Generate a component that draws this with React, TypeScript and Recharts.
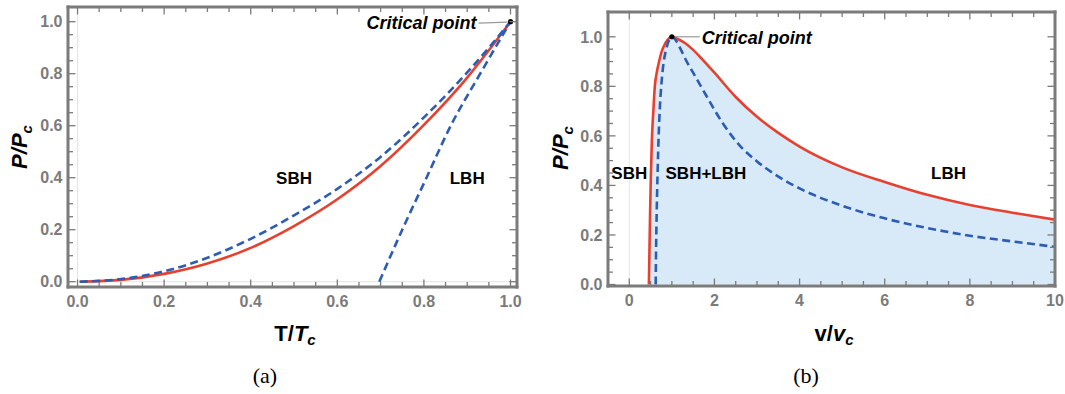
import React from 'react';
import { ComposedChart, Line, Area, XAxis, YAxis, ReferenceLine, ReferenceDot } from 'recharts';

// ---- Panel (a): P/Pc against T/Tc ----
const aT = [0.005, 0.1, 0.2, 0.3, 0.4, 0.5, 0.6, 0.7, 0.8, 0.9, 0.95, 1.0];
const aCoexistenceP = [0, 0.007, 0.03, 0.07, 0.13, 0.214, 0.317, 0.445, 0.603, 0.785, 0.89, 1.0];
const aSbhSpinodalP = [0, 0.01, 0.04, 0.092, 0.165, 0.255, 0.357, 0.48, 0.632, 0.805, 0.9, 1.0];
const aLbhSpinodalT = [0.697, 0.75, 0.806, 0.862, 0.93, 1.0];
const aLbhSpinodalP = [0, 0.2, 0.4, 0.6, 0.8, 1.0];

// ---- Panel (b): P/Pc against v/vc ----
const bCoexistenceV = [0.46, 0.475, 0.49, 0.505, 0.53, 0.565, 0.6, 0.65, 0.7, 0.76, 0.82, 0.9, 1.0, 1.15, 1.33, 1.5, 1.72, 2.0, 2.5, 3.0, 3.5, 4.0, 5.0, 6.0, 7.0, 8.0, 9.0, 10.0];
const bCoexistenceP = [0, 0.15, 0.3, 0.42, 0.58, 0.7, 0.8, 0.86, 0.9, 0.94, 0.965, 0.988, 1.0, 0.99, 0.972, 0.947, 0.908, 0.855, 0.757, 0.677, 0.612, 0.557, 0.473, 0.414, 0.362, 0.321, 0.29, 0.262];
const bSpinodalV = [0.62, 0.63, 0.645, 0.665, 0.69, 0.72, 0.76, 0.81, 0.86, 0.93, 1.0, 1.1, 1.22, 1.35, 1.5, 1.65, 1.8, 2.0, 2.2, 2.6, 3.0, 3.4, 4.0, 5.0, 6.0, 7.0, 8.0, 9.0, 10.0];
const bSpinodalP = [0, 0.15, 0.3, 0.45, 0.6, 0.72, 0.82, 0.9, 0.945, 0.985, 1.0, 0.984, 0.945, 0.9, 0.855, 0.81, 0.765, 0.705, 0.65, 0.56, 0.497, 0.447, 0.388, 0.318, 0.267, 0.228, 0.197, 0.174, 0.152];

// ---- Ticks ----
const unitMajor = [0, 0.2, 0.4, 0.6, 0.8, 1.0];
const unitMinor = [0.05, 0.1, 0.15, 0.25, 0.3, 0.35, 0.45, 0.5, 0.55, 0.65, 0.7, 0.75, 0.85, 0.9, 0.95];
const vMajor = [0, 2, 4, 6, 8, 10];
const vMinor = [-0.5, 0.5, 1, 1.5, 2.5, 3, 3.5, 4.5, 5, 5.5, 6.5, 7, 7.5, 8.5, 9, 9.5];

// ---- Region labels ----
const aRegionLabels = [
  { x: 0.5, y: 0.4, text: 'SBH' },
  { x: 0.9, y: 0.4, text: 'LBH' },
];
const bRegionLabels = [
  { x: 0.0, y: 0.45, text: 'SBH' },
  { x: 1.8, y: 0.45, text: 'SBH+LBH' },
  { x: 7.5, y: 0.45, text: 'LBH' },
];
const criticalPoint = { x: 1, y: 1 };

const GRAY = '#7b7b7b';
const RED = '#e8402f';
const BLUE = '#2c5db2';
const FILL = '#d8eaf8';
const SANS = '"Liberation Sans", Arial, sans-serif';

const toPoints = (xs: number[], ys: number[]) => xs.map((x, i) => ({ x, y: ys[i] }));

type Side = 'bottom' | 'top' | 'left' | 'right';

function FrameTick(props: any) {
  const { x = 0, y = 0, payload, side, majors, fmt } = props as {
    x: number; y: number; payload: { value: number }; side: Side; majors: number[]; fmt?: (v: number) => string;
  };
  const v = payload ? payload.value : 0;
  const major = majors.some((m) => Math.abs(m - v) < 1e-6);
  const len = major ? 7.5 : 5;
  let x2 = x;
  let y2 = y;
  if (side === 'bottom') y2 = y - len;
  if (side === 'top') y2 = y + len;
  if (side === 'left') x2 = x + len;
  if (side === 'right') x2 = x - len;
  return (
    <g>
      <line x1={x} y1={y} x2={x2} y2={y2} stroke={GRAY} strokeWidth={1.3} />
      {major && fmt && side === 'bottom' && (
        <text x={x} y={y + 20} textAnchor="middle" fill={GRAY} fontFamily={SANS} fontWeight="bold" fontSize={16}>
          {fmt(v)}
        </text>
      )}
      {major && fmt && side === 'left' && (
        <text x={x - 5.5} y={y} dy="0.36em" textAnchor="end" fill={GRAY} fontFamily={SANS} fontWeight="bold" fontSize={16}>
          {fmt(v)}
        </text>
      )}
    </g>
  );
}

function RegionLabel(props: any) {
  const { cx = 0, cy = 0, text } = props;
  return (
    <text x={cx} y={cy} dy="0.36em" textAnchor="middle" fontFamily={SANS} fontWeight="bold" fontSize={17} fill="#000">
      {text}
    </text>
  );
}

function CriticalMarker(props: any) {
  const { cx = 0, cy = 0, labelSide } = props;
  const left = labelSide === 'left';
  return (
    <g>
      {left ? (
        <line x1={cx - 3} y1={cy + 0.5} x2={cx - 32} y2={cy + 1.5} stroke="#9a9a9a" strokeWidth={1.2} />
      ) : (
        <line x1={cx + 3} y1={cy} x2={cx + 28} y2={cy} stroke="#9a9a9a" strokeWidth={1.2} />
      )}
      <circle cx={cx} cy={cy} r={2.6} fill="#000" />
      <text
        x={left ? cx - 34 : cx + 30}
        y={cy + 7}
        textAnchor={left ? 'end' : 'start'}
        fontFamily={SANS}
        fontWeight="bold"
        fontStyle="italic"
        fontSize={18}
        fill="#000"
      >
        Critical point
      </text>
    </g>
  );
}

const frameLine = { stroke: GRAY, strokeWidth: 3, strokeLinecap: 'square' as const };
const fmt1 = (v: number) => v.toFixed(1);
const fmt0 = (v: number) => String(v);

// Shared four-sided frame: bottom/left carry labels, top/right carry ticks only.
function frameAxes(
  xDomain: [number, number], yDomain: [number, number],
  xMajor: number[], xTicks: number[], yMajor: number[], yTicks: number[],
  xFmt: (v: number) => string, yFmt: (v: number) => string,
) {
  return [
    <XAxis key="xb" xAxisId="b" type="number" dataKey="x" domain={xDomain} allowDataOverflow ticks={xTicks} interval={0}
      height={1} tickSize={0} tickMargin={0} tickLine={false} axisLine={frameLine}
      tick={<FrameTick side="bottom" majors={xMajor} fmt={xFmt} />} />,
    <XAxis key="xt" xAxisId="t" orientation="top" type="number" dataKey="x" domain={xDomain} allowDataOverflow ticks={xTicks} interval={0}
      height={1} tickSize={0} tickMargin={0} tickLine={false} axisLine={frameLine}
      tick={<FrameTick side="top" majors={xMajor} />} />,
    <YAxis key="yl" yAxisId="l" type="number" domain={yDomain} allowDataOverflow ticks={yTicks} interval={0}
      width={1} tickSize={0} tickMargin={0} tickLine={false} axisLine={frameLine}
      tick={<FrameTick side="left" majors={yMajor} fmt={yFmt} />} />,
    <YAxis key="yr" yAxisId="r" orientation="right" type="number" domain={yDomain} allowDataOverflow ticks={yTicks} interval={0}
      width={1} tickSize={0} tickMargin={0} tickLine={false} axisLine={frameLine}
      tick={<FrameTick side="right" majors={yMajor} />} />,
  ];
}

function PanelA() {
  const coexistence = toPoints(aT, aCoexistenceP);
  const sbh = toPoints(aT, aSbhSpinodalP);
  const lbh = toPoints(aLbhSpinodalT, aLbhSpinodalP);
  const xDomain: [number, number] = [-0.022, 1.015];
  const yDomain: [number, number] = [-0.0204, 1.0565];
  return (
    <ComposedChart width={530} height={394} margin={{ top: 6, right: 12, bottom: 106, left: 67 }}>
      {frameAxes(xDomain, yDomain, unitMajor, [...unitMajor, ...unitMinor], unitMajor, [...unitMajor, ...unitMinor], fmt1, fmt1)}
      <ReferenceLine xAxisId="b" yAxisId="l" x={0} stroke="#e4e4e4" strokeWidth={1} />
      <ReferenceLine xAxisId="b" yAxisId="l" y={0} stroke="#e4e4e4" strokeWidth={1} />
      <Line xAxisId="b" yAxisId="l" data={coexistence} dataKey="y" type="monotoneX" stroke={RED} strokeWidth={2.6}
        dot={false} isAnimationActive={false} />
      <Line xAxisId="b" yAxisId="l" data={sbh} dataKey="y" type="monotoneX" stroke={BLUE} strokeWidth={2.6}
        strokeDasharray="8 4.5" dot={false} isAnimationActive={false} />
      <Line xAxisId="b" yAxisId="l" data={lbh} dataKey="y" type="monotoneX" stroke={BLUE} strokeWidth={2.6}
        strokeDasharray="8 4.5" dot={false} isAnimationActive={false} />
      {aRegionLabels.map((l) => (
        <ReferenceDot key={l.text} xAxisId="b" yAxisId="l" x={l.x} y={l.y} r={0} shape={<RegionLabel text={l.text} />} />
      ))}
      <ReferenceDot xAxisId="b" yAxisId="l" x={criticalPoint.x} y={criticalPoint.y} r={2.6}
        shape={<CriticalMarker labelSide="left" />} />
    </ComposedChart>
  );
}

function PanelB() {
  const coexistence = toPoints(bCoexistenceV, bCoexistenceP);
  const spinodal = toPoints(bSpinodalV, bSpinodalP);
  const xDomain: [number, number] = [-0.5, 10];
  const yDomain: [number, number] = [-0.006, 1.1];
  return (
    <ComposedChart width={530} height={394} margin={{ top: 11, right: 9, bottom: 107, left: 72 }}>
      {frameAxes(xDomain, yDomain, vMajor, [...vMajor, ...vMinor], unitMajor, [...unitMajor, ...unitMinor], fmt0, fmt1)}
      <ReferenceLine xAxisId="b" yAxisId="l" x={0} stroke="#e4e4e4" strokeWidth={1} />
      <Area xAxisId="b" yAxisId="l" data={coexistence} dataKey="y" type="monotoneX" baseValue={0}
        stroke="none" fill={FILL} fillOpacity={1} dot={false} activeDot={false} isAnimationActive={false} />
      <Line xAxisId="b" yAxisId="l" data={coexistence} dataKey="y" type="monotoneX" stroke={RED} strokeWidth={2.6}
        dot={false} isAnimationActive={false} />
      <Line xAxisId="b" yAxisId="l" data={spinodal} dataKey="y" type="monotoneX" stroke={BLUE} strokeWidth={2.6}
        strokeDasharray="8 4.5" dot={false} isAnimationActive={false} />
      {bRegionLabels.map((l) => (
        <ReferenceDot key={l.text} xAxisId="b" yAxisId="l" x={l.x} y={l.y} r={0} shape={<RegionLabel text={l.text} />} />
      ))}
      <ReferenceDot xAxisId="b" yAxisId="l" x={criticalPoint.x} y={criticalPoint.y} r={2.6}
        shape={<CriticalMarker labelSide="right" />} />
    </ComposedChart>
  );
}

function AxisTitles() {
  const bi = { fontFamily: SANS, fontWeight: 'bold' as const, fill: '#000' };
  return (
    <svg width={1065} height={394} style={{ position: 'absolute', left: 0, top: 0, pointerEvents: 'none' }}>
      <text transform="translate(27,147) rotate(-90)" textAnchor="middle" fontSize={22} fontStyle="italic" {...bi}>
        P/P<tspan dy={5} fontSize={15}>c</tspan>
      </text>
      <text transform="translate(568,148) rotate(-90)" textAnchor="middle" fontSize={22} fontStyle="italic" {...bi}>
        P/P<tspan dy={5} fontSize={15}>c</tspan>
      </text>
      <text x={295} y={341} textAnchor="middle" fontSize={22} {...bi}>
        T/<tspan fontStyle="italic">T</tspan>
        <tspan dy={4} fontSize={15} fontStyle="italic">c</tspan>
      </text>
      <text x={834} y={341} textAnchor="middle" fontSize={22} {...bi}>
        v/<tspan fontStyle="italic">v</tspan>
        <tspan dy={4} fontSize={15} fontStyle="italic">c</tspan>
      </text>
      <text x={265} y={383} textAnchor="middle" fontFamily='"Liberation Serif", serif' fontSize={22} fill="#000">(a)</text>
      <text x={806} y={383} textAnchor="middle" fontFamily='"Liberation Serif", serif' fontSize={22} fill="#000">(b)</text>
    </svg>
  );
}

export default function App() {
  return (
    <div style={{ position: 'absolute', left: 0, top: 0, width: 1065, height: 394, background: '#fff', overflow: 'hidden' }}>
      <div style={{ position: 'absolute', left: 0, top: 0 }}>
        <PanelA />
      </div>
      <div style={{ position: 'absolute', left: 535, top: 0 }}>
        <PanelB />
      </div>
      <AxisTitles />
    </div>
  );
}
